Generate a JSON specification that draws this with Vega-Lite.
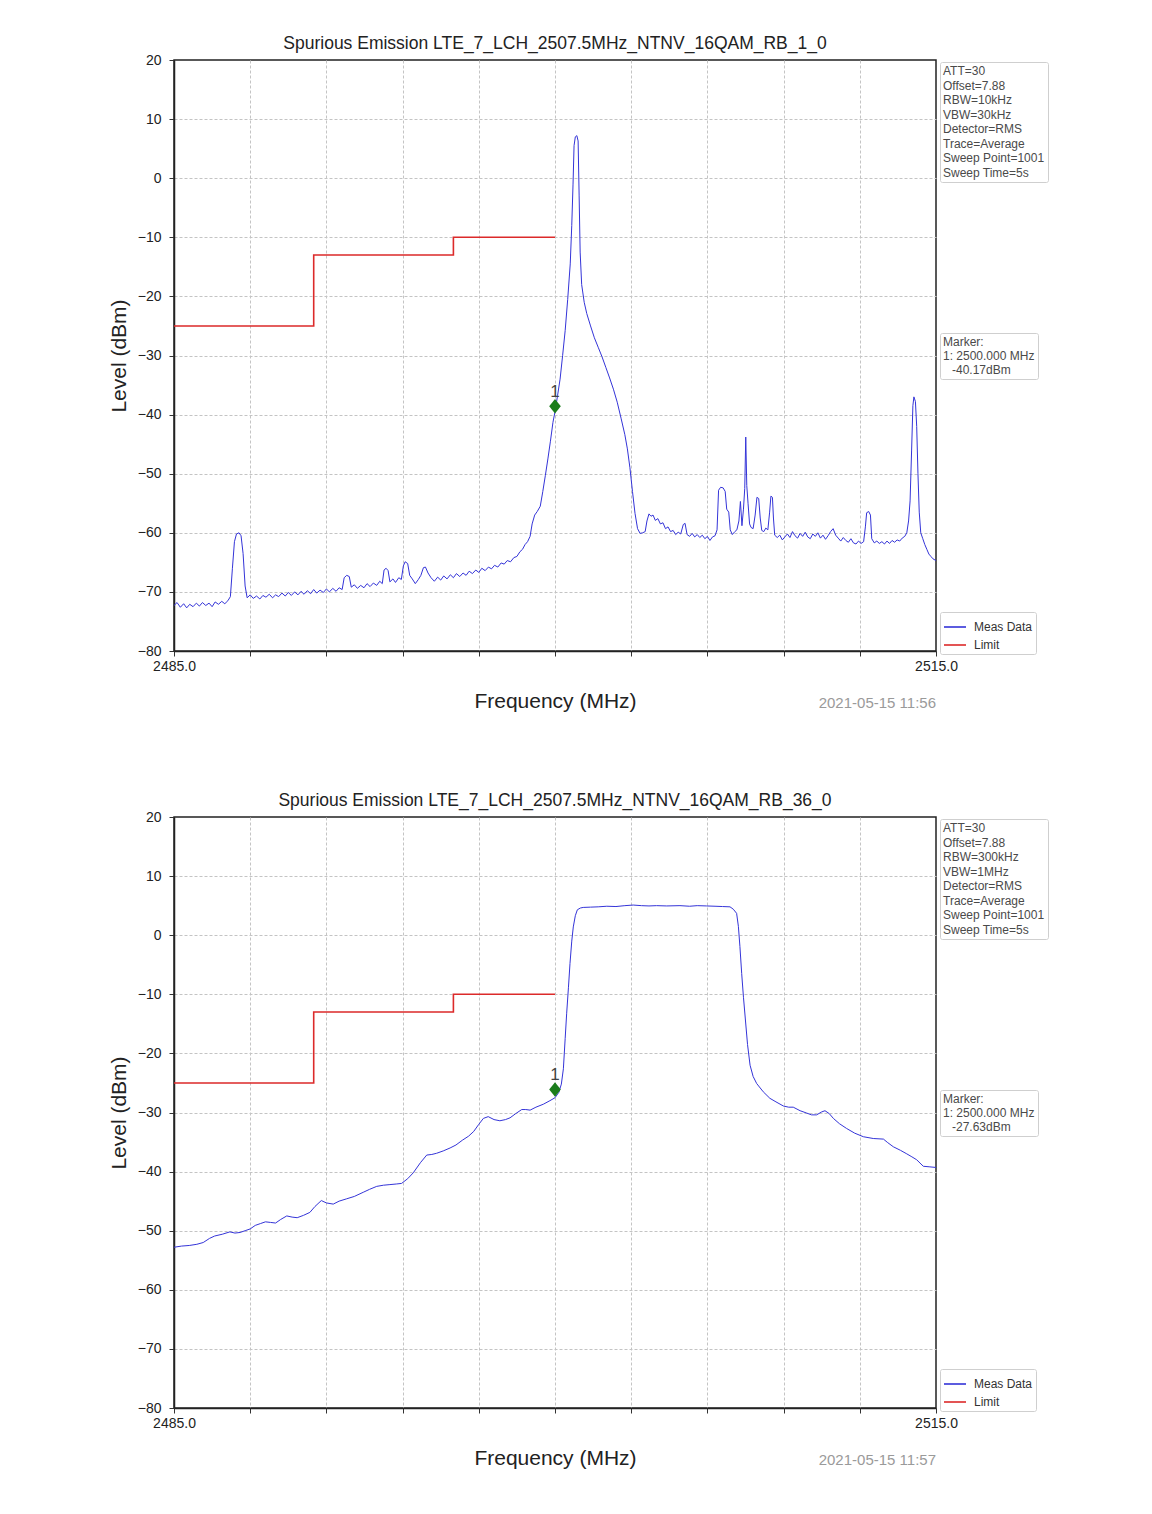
{
"$schema": "https://vega.github.io/schema/vega-lite/v6.json",
"background": "white",
"padding": {"left": 107, "top": 33, "right": 5, "bottom": 5},
"spacing": 78,
"config": {
  "font": "Liberation Sans",
  "view": {"stroke": "#222", "strokeWidth": 1.5},
  "title": {"fontSize": 17.5, "fontWeight": "normal", "color": "#222", "offset": 1, "anchor": "middle", "font": "Liberation Sans"},
  "axis": {"labelFont": "Liberation Sans", "titleFont": "Liberation Sans", "labelColor": "#222", "titleColor": "#222", "titleFontWeight": "normal", "titleFontSize": 21, "gridDash": [3, 2], "gridColor": "#c4c4c4", "gridWidth": 1, "tickColor": "#333", "tickSize": 5, "domainColor": "#222", "domainWidth": 1.5, "labelOverlap": false, "labelFlush": false},
  "legend": {"labelFont": "Liberation Sans", "labelColor": "#4a4a4a", "labelFontSize": 12, "strokeColor": "#cfcfcf", "fillColor": "white", "cornerRadius": 2, "padding": 3}
},
"datasets": {
  "meas1": [
{"f":2485.0,"L":-72.3},{"f":2485.12,"L":-71.8},{"f":2485.25,"L":-72.6},{"f":2485.38,"L":-72.0},{"f":2485.5,"L":-72.7},{"f":2485.62,"L":-72.1},{"f":2485.75,"L":-72.5},{"f":2485.88,"L":-71.9},{"f":2486.0,"L":-72.4},{"f":2486.12,"L":-71.8},{"f":2486.25,"L":-72.3},{"f":2486.38,"L":-71.9},{"f":2486.5,"L":-72.5},{"f":2486.62,"L":-71.7},{"f":2486.75,"L":-72.1},{"f":2486.88,"L":-71.6},{"f":2487.0,"L":-72.0},{"f":2487.12,"L":-71.5},{"f":2487.22,"L":-70.8},{"f":2487.3,"L":-66.0},{"f":2487.38,"L":-61.5},{"f":2487.46,"L":-60.2},{"f":2487.56,"L":-60.0},{"f":2487.64,"L":-60.5},{"f":2487.72,"L":-63.5},{"f":2487.8,"L":-69.0},{"f":2487.88,"L":-71.0},{"f":2488.0,"L":-70.5},{"f":2488.12,"L":-71.1},{"f":2488.25,"L":-70.7},{"f":2488.38,"L":-71.2},{"f":2488.5,"L":-70.6},{"f":2488.62,"L":-70.9},{"f":2488.75,"L":-70.4},{"f":2488.88,"L":-71.0},{"f":2489.0,"L":-70.5},{"f":2489.12,"L":-70.8},{"f":2489.25,"L":-70.2},{"f":2489.38,"L":-70.7},{"f":2489.5,"L":-70.1},{"f":2489.62,"L":-70.6},{"f":2489.75,"L":-70.0},{"f":2489.88,"L":-70.5},{"f":2490.0,"L":-69.9},{"f":2490.12,"L":-70.4},{"f":2490.25,"L":-69.8},{"f":2490.38,"L":-70.3},{"f":2490.5,"L":-69.6},{"f":2490.62,"L":-70.2},{"f":2490.75,"L":-69.7},{"f":2490.88,"L":-70.1},{"f":2491.0,"L":-69.5},{"f":2491.12,"L":-70.0},{"f":2491.25,"L":-69.4},{"f":2491.38,"L":-69.9},{"f":2491.5,"L":-69.3},{"f":2491.62,"L":-69.6},{"f":2491.7,"L":-67.6},{"f":2491.8,"L":-67.2},{"f":2491.9,"L":-67.4},{"f":2491.98,"L":-69.2},{"f":2492.1,"L":-68.8},{"f":2492.22,"L":-69.4},{"f":2492.35,"L":-68.9},{"f":2492.48,"L":-69.3},{"f":2492.6,"L":-68.6},{"f":2492.72,"L":-69.1},{"f":2492.85,"L":-68.5},{"f":2492.98,"L":-68.9},{"f":2493.1,"L":-68.2},{"f":2493.2,"L":-68.6},{"f":2493.27,"L":-66.3},{"f":2493.35,"L":-66.0},{"f":2493.43,"L":-66.4},{"f":2493.5,"L":-68.3},{"f":2493.62,"L":-67.8},{"f":2493.72,"L":-68.4},{"f":2493.85,"L":-67.6},{"f":2493.95,"L":-67.9},{"f":2494.03,"L":-65.6},{"f":2494.1,"L":-64.9},{"f":2494.2,"L":-65.2},{"f":2494.28,"L":-67.2},{"f":2494.38,"L":-67.8},{"f":2494.5,"L":-68.6},{"f":2494.62,"L":-67.9},{"f":2494.72,"L":-67.2},{"f":2494.82,"L":-65.9},{"f":2494.9,"L":-65.8},{"f":2495.0,"L":-66.8},{"f":2495.12,"L":-67.6},{"f":2495.25,"L":-68.2},{"f":2495.38,"L":-67.5},{"f":2495.5,"L":-68.0},{"f":2495.62,"L":-67.3},{"f":2495.75,"L":-67.8},{"f":2495.88,"L":-67.1},{"f":2496.0,"L":-67.6},{"f":2496.12,"L":-66.9},{"f":2496.25,"L":-67.4},{"f":2496.38,"L":-66.8},{"f":2496.5,"L":-67.2},{"f":2496.62,"L":-66.5},{"f":2496.75,"L":-66.9},{"f":2496.88,"L":-66.3},{"f":2497.0,"L":-66.7},{"f":2497.12,"L":-66.0},{"f":2497.25,"L":-66.4},{"f":2497.38,"L":-65.8},{"f":2497.5,"L":-66.1},{"f":2497.62,"L":-65.5},{"f":2497.75,"L":-65.8},{"f":2497.88,"L":-65.1},{"f":2498.0,"L":-65.3},{"f":2498.12,"L":-64.7},{"f":2498.25,"L":-64.9},{"f":2498.38,"L":-64.2},{"f":2498.5,"L":-64.0},{"f":2498.62,"L":-63.2},{"f":2498.72,"L":-62.8},{"f":2498.82,"L":-62.0},{"f":2498.92,"L":-61.5},{"f":2499.02,"L":-60.6},{"f":2499.1,"L":-58.5},{"f":2499.2,"L":-57.0},{"f":2499.3,"L":-56.4},{"f":2499.42,"L":-55.5},{"f":2499.52,"L":-53.0},{"f":2499.62,"L":-50.3},{"f":2499.72,"L":-47.5},{"f":2499.82,"L":-44.5},{"f":2499.92,"L":-41.3},{"f":2500.0,"L":-39.5},{"f":2500.1,"L":-36.8},{"f":2500.2,"L":-34.0},{"f":2500.3,"L":-30.0},{"f":2500.4,"L":-25.8},{"f":2500.5,"L":-20.5},{"f":2500.6,"L":-14.5},{"f":2500.66,"L":-8.0},{"f":2500.71,"L":-1.0},{"f":2500.75,"L":5.5},{"f":2500.8,"L":7.0},{"f":2500.86,"L":7.2},{"f":2500.91,"L":6.3},{"f":2500.95,"L":-3.0},{"f":2500.99,"L":-12.5},{"f":2501.05,"L":-18.0},{"f":2501.15,"L":-21.0},{"f":2501.25,"L":-22.9},{"f":2501.4,"L":-25.0},{"f":2501.55,"L":-27.0},{"f":2501.7,"L":-28.6},{"f":2501.85,"L":-30.2},{"f":2502.0,"L":-32.0},{"f":2502.15,"L":-33.8},{"f":2502.3,"L":-35.7},{"f":2502.45,"L":-37.9},{"f":2502.6,"L":-40.6},{"f":2502.75,"L":-43.4},{"f":2502.85,"L":-45.8},{"f":2502.95,"L":-49.0},{"f":2503.05,"L":-53.0},{"f":2503.15,"L":-56.7},{"f":2503.25,"L":-59.3},{"f":2503.35,"L":-60.1},{"f":2503.45,"L":-60.0},{"f":2503.55,"L":-59.8},{"f":2503.62,"L":-58.0},{"f":2503.7,"L":-56.8},{"f":2503.78,"L":-57.2},{"f":2503.86,"L":-57.0},{"f":2503.95,"L":-57.9},{"f":2504.05,"L":-57.6},{"f":2504.15,"L":-58.5},{"f":2504.25,"L":-58.3},{"f":2504.35,"L":-59.3},{"f":2504.45,"L":-59.0},{"f":2504.55,"L":-59.8},{"f":2504.65,"L":-59.6},{"f":2504.75,"L":-60.3},{"f":2504.85,"L":-59.9},{"f":2504.95,"L":-60.2},{"f":2505.05,"L":-58.6},{"f":2505.12,"L":-58.4},{"f":2505.2,"L":-60.3},{"f":2505.3,"L":-60.6},{"f":2505.4,"L":-60.1},{"f":2505.5,"L":-60.7},{"f":2505.6,"L":-60.3},{"f":2505.7,"L":-60.8},{"f":2505.8,"L":-60.4},{"f":2505.9,"L":-61.0},{"f":2506.0,"L":-60.6},{"f":2506.1,"L":-61.3},{"f":2506.2,"L":-60.7},{"f":2506.3,"L":-60.5},{"f":2506.38,"L":-59.5},{"f":2506.44,"L":-52.8},{"f":2506.52,"L":-52.3},{"f":2506.62,"L":-52.4},{"f":2506.7,"L":-53.0},{"f":2506.76,"L":-56.0},{"f":2506.84,"L":-56.5},{"f":2506.9,"L":-59.5},{"f":2506.98,"L":-60.3},{"f":2507.08,"L":-59.8},{"f":2507.16,"L":-59.5},{"f":2507.24,"L":-58.0},{"f":2507.3,"L":-54.7},{"f":2507.36,"L":-58.8},{"f":2507.42,"L":-56.0},{"f":2507.47,"L":-52.5},{"f":2507.51,"L":-43.8},{"f":2507.55,"L":-52.0},{"f":2507.6,"L":-55.0},{"f":2507.66,"L":-58.5},{"f":2507.72,"L":-59.1},{"f":2507.8,"L":-59.3},{"f":2507.88,"L":-57.0},{"f":2507.95,"L":-54.0},{"f":2508.02,"L":-54.2},{"f":2508.08,"L":-57.5},{"f":2508.14,"L":-59.6},{"f":2508.22,"L":-59.8},{"f":2508.3,"L":-59.2},{"f":2508.38,"L":-59.5},{"f":2508.45,"L":-56.5},{"f":2508.5,"L":-53.8},{"f":2508.56,"L":-54.0},{"f":2508.6,"L":-57.5},{"f":2508.65,"L":-60.4},{"f":2508.75,"L":-60.8},{"f":2508.85,"L":-60.4},{"f":2508.95,"L":-61.2},{"f":2509.05,"L":-60.7},{"f":2509.15,"L":-60.2},{"f":2509.25,"L":-60.8},{"f":2509.35,"L":-59.8},{"f":2509.45,"L":-60.5},{"f":2509.55,"L":-60.9},{"f":2509.65,"L":-60.1},{"f":2509.75,"L":-60.6},{"f":2509.85,"L":-59.9},{"f":2509.95,"L":-60.7},{"f":2510.05,"L":-61.0},{"f":2510.15,"L":-60.2},{"f":2510.25,"L":-60.6},{"f":2510.35,"L":-60.0},{"f":2510.45,"L":-60.9},{"f":2510.55,"L":-60.4},{"f":2510.65,"L":-61.1},{"f":2510.75,"L":-60.5},{"f":2510.85,"L":-59.8},{"f":2510.95,"L":-59.3},{"f":2511.05,"L":-60.4},{"f":2511.15,"L":-60.9},{"f":2511.25,"L":-61.4},{"f":2511.35,"L":-60.8},{"f":2511.45,"L":-61.3},{"f":2511.55,"L":-61.6},{"f":2511.65,"L":-61.0},{"f":2511.75,"L":-61.7},{"f":2511.85,"L":-61.9},{"f":2511.95,"L":-61.4},{"f":2512.05,"L":-61.8},{"f":2512.15,"L":-61.5},{"f":2512.22,"L":-59.0},{"f":2512.27,"L":-56.6},{"f":2512.35,"L":-56.4},{"f":2512.42,"L":-57.0},{"f":2512.47,"L":-61.0},{"f":2512.57,"L":-61.7},{"f":2512.67,"L":-61.4},{"f":2512.77,"L":-61.8},{"f":2512.87,"L":-61.5},{"f":2512.97,"L":-61.9},{"f":2513.07,"L":-61.4},{"f":2513.17,"L":-61.8},{"f":2513.27,"L":-61.3},{"f":2513.37,"L":-61.6},{"f":2513.47,"L":-61.2},{"f":2513.57,"L":-61.4},{"f":2513.67,"L":-60.9},{"f":2513.77,"L":-60.6},{"f":2513.85,"L":-60.0},{"f":2513.92,"L":-58.0},{"f":2513.98,"L":-54.6},{"f":2514.04,"L":-46.0},{"f":2514.09,"L":-38.5},{"f":2514.13,"L":-37.0},{"f":2514.19,"L":-37.8},{"f":2514.24,"L":-42.0},{"f":2514.29,"L":-50.0},{"f":2514.34,"L":-56.5},{"f":2514.4,"L":-60.0},{"f":2514.48,"L":-61.0},{"f":2514.56,"L":-62.0},{"f":2514.64,"L":-62.8},{"f":2514.72,"L":-63.6},{"f":2514.8,"L":-64.0},{"f":2514.88,"L":-64.4},{"f":2515.0,"L":-64.7}
  ],
  "meas2": [
{"f":2485.0,"L":-52.8},{"f":2485.3,"L":-52.6},{"f":2485.6,"L":-52.5},{"f":2485.9,"L":-52.3},{"f":2486.15,"L":-52.0},{"f":2486.4,"L":-51.3},{"f":2486.6,"L":-50.9},{"f":2486.9,"L":-50.6},{"f":2487.2,"L":-50.2},{"f":2487.4,"L":-50.4},{"f":2487.6,"L":-50.3},{"f":2487.8,"L":-50.0},{"f":2488.0,"L":-49.7},{"f":2488.2,"L":-49.1},{"f":2488.4,"L":-48.8},{"f":2488.6,"L":-48.5},{"f":2488.8,"L":-48.6},{"f":2489.0,"L":-48.7},{"f":2489.2,"L":-48.1},{"f":2489.44,"L":-47.5},{"f":2489.65,"L":-47.7},{"f":2489.85,"L":-47.8},{"f":2490.1,"L":-47.4},{"f":2490.35,"L":-46.9},{"f":2490.55,"L":-45.9},{"f":2490.8,"L":-44.9},{"f":2491.0,"L":-45.3},{"f":2491.27,"L":-45.5},{"f":2491.5,"L":-45.0},{"f":2491.8,"L":-44.6},{"f":2492.1,"L":-44.2},{"f":2492.45,"L":-43.5},{"f":2492.7,"L":-43.0},{"f":2492.98,"L":-42.5},{"f":2493.25,"L":-42.3},{"f":2493.5,"L":-42.2},{"f":2493.75,"L":-42.1},{"f":2493.96,"L":-42.0},{"f":2494.2,"L":-41.2},{"f":2494.42,"L":-40.2},{"f":2494.7,"L":-38.5},{"f":2494.95,"L":-37.2},{"f":2495.15,"L":-37.1},{"f":2495.34,"L":-36.9},{"f":2495.6,"L":-36.5},{"f":2495.87,"L":-36.0},{"f":2496.1,"L":-35.5},{"f":2496.35,"L":-34.7},{"f":2496.6,"L":-34.0},{"f":2496.8,"L":-33.2},{"f":2497.0,"L":-32.0},{"f":2497.18,"L":-31.0},{"f":2497.37,"L":-30.7},{"f":2497.6,"L":-31.2},{"f":2497.83,"L":-31.4},{"f":2498.05,"L":-31.2},{"f":2498.23,"L":-30.9},{"f":2498.45,"L":-30.2},{"f":2498.69,"L":-29.5},{"f":2498.85,"L":-29.5},{"f":2499.02,"L":-29.6},{"f":2499.25,"L":-29.1},{"f":2499.54,"L":-28.6},{"f":2499.8,"L":-28.0},{"f":2500.0,"L":-27.5},{"f":2500.15,"L":-26.6},{"f":2500.25,"L":-25.2},{"f":2500.33,"L":-22.6},{"f":2500.4,"L":-17.5},{"f":2500.46,"L":-13.2},{"f":2500.53,"L":-8.8},{"f":2500.59,"L":-4.8},{"f":2500.66,"L":-1.0},{"f":2500.72,"L":1.4},{"f":2500.8,"L":3.3},{"f":2500.88,"L":4.3},{"f":2501.0,"L":4.6},{"f":2501.11,"L":4.7},{"f":2501.4,"L":4.75},{"f":2501.7,"L":4.8},{"f":2502.04,"L":4.9},{"f":2502.4,"L":4.85},{"f":2502.75,"L":5.0},{"f":2503.08,"L":5.1},{"f":2503.4,"L":5.0},{"f":2503.7,"L":4.95},{"f":2504.0,"L":5.0},{"f":2504.4,"L":4.95},{"f":2504.92,"L":5.0},{"f":2505.3,"L":4.9},{"f":2505.6,"L":5.0},{"f":2505.97,"L":4.95},{"f":2506.3,"L":4.9},{"f":2506.6,"L":4.85},{"f":2506.89,"L":4.8},{"f":2507.02,"L":4.4},{"f":2507.15,"L":3.7},{"f":2507.22,"L":1.5},{"f":2507.28,"L":-1.9},{"f":2507.35,"L":-6.5},{"f":2507.42,"L":-10.5},{"f":2507.48,"L":-13.5},{"f":2507.58,"L":-18.5},{"f":2507.68,"L":-22.0},{"f":2507.8,"L":-23.9},{"f":2507.94,"L":-25.1},{"f":2508.2,"L":-26.5},{"f":2508.46,"L":-27.6},{"f":2508.7,"L":-28.2},{"f":2508.99,"L":-28.9},{"f":2509.2,"L":-29.1},{"f":2509.38,"L":-29.1},{"f":2509.65,"L":-29.7},{"f":2509.91,"L":-30.1},{"f":2510.1,"L":-30.4},{"f":2510.3,"L":-30.4},{"f":2510.5,"L":-29.9},{"f":2510.63,"L":-29.7},{"f":2510.8,"L":-30.2},{"f":2510.96,"L":-31.0},{"f":2511.2,"L":-31.9},{"f":2511.48,"L":-32.7},{"f":2511.8,"L":-33.5},{"f":2512.14,"L":-34.1},{"f":2512.53,"L":-34.4},{"f":2512.93,"L":-34.5},{"f":2513.1,"L":-35.1},{"f":2513.32,"L":-35.8},{"f":2513.6,"L":-36.4},{"f":2513.85,"L":-37.0},{"f":2514.05,"L":-37.5},{"f":2514.24,"L":-38.0},{"f":2514.5,"L":-39.1},{"f":2514.76,"L":-39.2},{"f":2515.0,"L":-39.3}
  ],
  "limit": [{"f":2485,"L":-25},{"f":2490.5,"L":-13},{"f":2496,"L":-10},{"f":2500,"L":-10}],
  "marker1": [{"f":2500,"L":-38.6,"label":"1"}],
  "marker2": [{"f":2500,"L":-26.1,"label":"1"}],
  "info1": [{"k":"ATT=30"},{"k":"Offset=7.88"},{"k":"RBW=10kHz"},{"k":"VBW=30kHz"},{"k":"Detector=RMS"},{"k":"Trace=Average"},{"k":"Sweep Point=1001"},{"k":"Sweep Time=5s"}],
  "info2": [{"k":"ATT=30"},{"k":"Offset=7.88"},{"k":"RBW=300kHz"},{"k":"VBW=1MHz"},{"k":"Detector=RMS"},{"k":"Trace=Average"},{"k":"Sweep Point=1001"},{"k":"Sweep Time=5s"}],
  "mk1": [{"m":"Marker:"},{"m":"1: 2500.000 MHz"},{"m":"\u2800-40.17dBm"}],
  "mk2": [{"m":"Marker:"},{"m":"1: 2500.000 MHz"},{"m":"\u2800-27.63dBm"}],
  "stamp1": [{"s":"2021-05-15 11:56"}],
  "stamp2": [{"s":"2021-05-15 11:57"}]
},
"resolve": {"scale": {"color": "independent", "shape": "independent", "strokeDash": "independent"}, "legend": {"color": "independent", "shape": "independent", "strokeDash": "independent"}},
"vconcat": [
 {
  "title": "Spurious Emission LTE_7_LCH_2507.5MHz_NTNV_16QAM_RB_1_0",
  "width": 762, "height": 591,
  "layer": [
    {"data": {"name": "meas1"}, "mark": {"type": "line", "strokeWidth": 1},
     "encoding": {
      "x": {"field": "f", "type": "quantitative", "title": "Frequency (MHz)", "scale": {"domain": [2485, 2515], "nice": false, "zero": false},
        "axis": {"values": [2485,2488,2491,2494,2497,2500,2503,2506,2509,2512,2515], "labelExpr": "datum.value == 2485 || datum.value == 2515 ? format(datum.value, '.1f') : ''", "labelFontSize": 14, "labelPadding": 3, "titlePadding": 17, "gridOpacity": {"condition": {"test": "datum.value == 2485 || datum.value == 2515", "value": 0}, "value": 1}}},
      "y": {"field": "L", "type": "quantitative", "title": "Level (dBm)", "scale": {"domain": [-80, 20], "nice": false, "zero": false},
        "axis": {"values": [-80,-70,-60,-50,-40,-30,-20,-10,0,10,20], "labelFontSize": 14, "labelPadding": 8, "titlePadding": 8, "gridOpacity": {"condition": {"test": "datum.value == 20 || datum.value == -80", "value": 0}, "value": 1}}},
      "color": {"datum": "Meas Data", "type": "nominal", "scale": {"domain": ["Meas Data", "Limit"], "range": ["#3434d8", "#dc2a2a"]},
        "legend": {"title": null, "orient": "none", "legendX": 766, "legendY": 552, "symbolType": "stroke", "symbolSize": 484, "symbolStrokeWidth": 1.6, "rowPadding": -4, "padding": 3, "labelOffset": 7, "labelColor": "#333"}}}},
    {"data": {"name": "limit"}, "mark": {"type": "line", "strokeWidth": 1.6, "interpolate": "step-after"}, "encoding": {"x": {"field": "f", "type": "quantitative"}, "y": {"field": "L", "type": "quantitative"}, "color": {"datum": "Limit", "type": "nominal"}}},
    {"data": {"name": "marker1"}, "mark": {"type": "point", "filled": true, "color": "#1b7d1b", "opacity": 1, "size": 210, "shape": "M0,-1L0.8,0L0,1L-0.8,0Z"}, "encoding": {"x": {"field": "f", "type": "quantitative"}, "y": {"field": "L", "type": "quantitative"}}},
    {"data": {"name": "marker1"}, "mark": {"type": "text", "fontSize": 17, "color": "#444", "baseline": "alphabetic", "dy": -9}, "encoding": {"x": {"field": "f", "type": "quantitative"}, "y": {"field": "L", "type": "quantitative"}, "text": {"field": "label"}}},
    {"data": {"name": "info1"}, "mark": {"type": "point", "opacity": 0}, "encoding": {"shape": {"field": "k", "type": "nominal", "sort": null,
      "legend": {"title": null, "orient": "none", "legendX": 766, "legendY": 2, "symbolSize": 0.01, "symbolOpacity": 0, "symbolStrokeWidth": 0.01, "labelOffset": -12, "rowPadding": 2.5}}}},
    {"data": {"name": "mk1"}, "mark": {"type": "point", "opacity": 0}, "encoding": {"strokeDash": {"field": "m", "type": "nominal", "sort": null,
      "legend": {"title": null, "orient": "none", "legendX": 766, "legendY": 273, "symbolSize": 0.01, "symbolOpacity": 0, "symbolStrokeWidth": 0.01, "labelOffset": -12, "rowPadding": 2}}}},
    {"data": {"name": "stamp1"}, "mark": {"type": "text", "align": "right", "baseline": "middle", "dy": 52, "fontSize": 15, "color": "#9a9a9a"}, "encoding": {"x": {"datum": 2515}, "y": {"datum": -80}, "text": {"field": "s"}}}
  ]
 },
 {
  "title": "Spurious Emission LTE_7_LCH_2507.5MHz_NTNV_16QAM_RB_36_0",
  "width": 762, "height": 591,
  "layer": [
    {"data": {"name": "meas2"}, "mark": {"type": "line", "strokeWidth": 1},
     "encoding": {
      "x": {"field": "f", "type": "quantitative", "title": "Frequency (MHz)", "scale": {"domain": [2485, 2515], "nice": false, "zero": false},
        "axis": {"values": [2485,2488,2491,2494,2497,2500,2503,2506,2509,2512,2515], "labelExpr": "datum.value == 2485 || datum.value == 2515 ? format(datum.value, '.1f') : ''", "labelFontSize": 14, "labelPadding": 3, "titlePadding": 17, "gridOpacity": {"condition": {"test": "datum.value == 2485 || datum.value == 2515", "value": 0}, "value": 1}}},
      "y": {"field": "L", "type": "quantitative", "title": "Level (dBm)", "scale": {"domain": [-80, 20], "nice": false, "zero": false},
        "axis": {"values": [-80,-70,-60,-50,-40,-30,-20,-10,0,10,20], "labelFontSize": 14, "labelPadding": 8, "titlePadding": 8, "gridOpacity": {"condition": {"test": "datum.value == 20 || datum.value == -80", "value": 0}, "value": 1}}},
      "color": {"datum": "Meas Data", "type": "nominal", "scale": {"domain": ["Meas Data", "Limit"], "range": ["#3434d8", "#dc2a2a"]},
        "legend": {"title": null, "orient": "none", "legendX": 766, "legendY": 552, "symbolType": "stroke", "symbolSize": 484, "symbolStrokeWidth": 1.6, "rowPadding": -4, "padding": 3, "labelOffset": 7, "labelColor": "#333"}}}},
    {"data": {"name": "limit"}, "mark": {"type": "line", "strokeWidth": 1.6, "interpolate": "step-after"}, "encoding": {"x": {"field": "f", "type": "quantitative"}, "y": {"field": "L", "type": "quantitative"}, "color": {"datum": "Limit", "type": "nominal"}}},
    {"data": {"name": "marker2"}, "mark": {"type": "point", "filled": true, "color": "#1b7d1b", "opacity": 1, "size": 210, "shape": "M0,-1L0.8,0L0,1L-0.8,0Z"}, "encoding": {"x": {"field": "f", "type": "quantitative"}, "y": {"field": "L", "type": "quantitative"}}},
    {"data": {"name": "marker2"}, "mark": {"type": "text", "fontSize": 17, "color": "#444", "baseline": "alphabetic", "dy": -9}, "encoding": {"x": {"field": "f", "type": "quantitative"}, "y": {"field": "L", "type": "quantitative"}, "text": {"field": "label"}}},
    {"data": {"name": "info2"}, "mark": {"type": "point", "opacity": 0}, "encoding": {"shape": {"field": "k", "type": "nominal", "sort": null,
      "legend": {"title": null, "orient": "none", "legendX": 766, "legendY": 2, "symbolSize": 0.01, "symbolOpacity": 0, "symbolStrokeWidth": 0.01, "labelOffset": -12, "rowPadding": 2.5}}}},
    {"data": {"name": "mk2"}, "mark": {"type": "point", "opacity": 0}, "encoding": {"strokeDash": {"field": "m", "type": "nominal", "sort": null,
      "legend": {"title": null, "orient": "none", "legendX": 766, "legendY": 273, "symbolSize": 0.01, "symbolOpacity": 0, "symbolStrokeWidth": 0.01, "labelOffset": -12, "rowPadding": 2}}}},
    {"data": {"name": "stamp2"}, "mark": {"type": "text", "align": "right", "baseline": "middle", "dy": 52, "fontSize": 15, "color": "#9a9a9a"}, "encoding": {"x": {"datum": 2515}, "y": {"datum": -80}, "text": {"field": "s"}}}
  ]
 }
]
}
